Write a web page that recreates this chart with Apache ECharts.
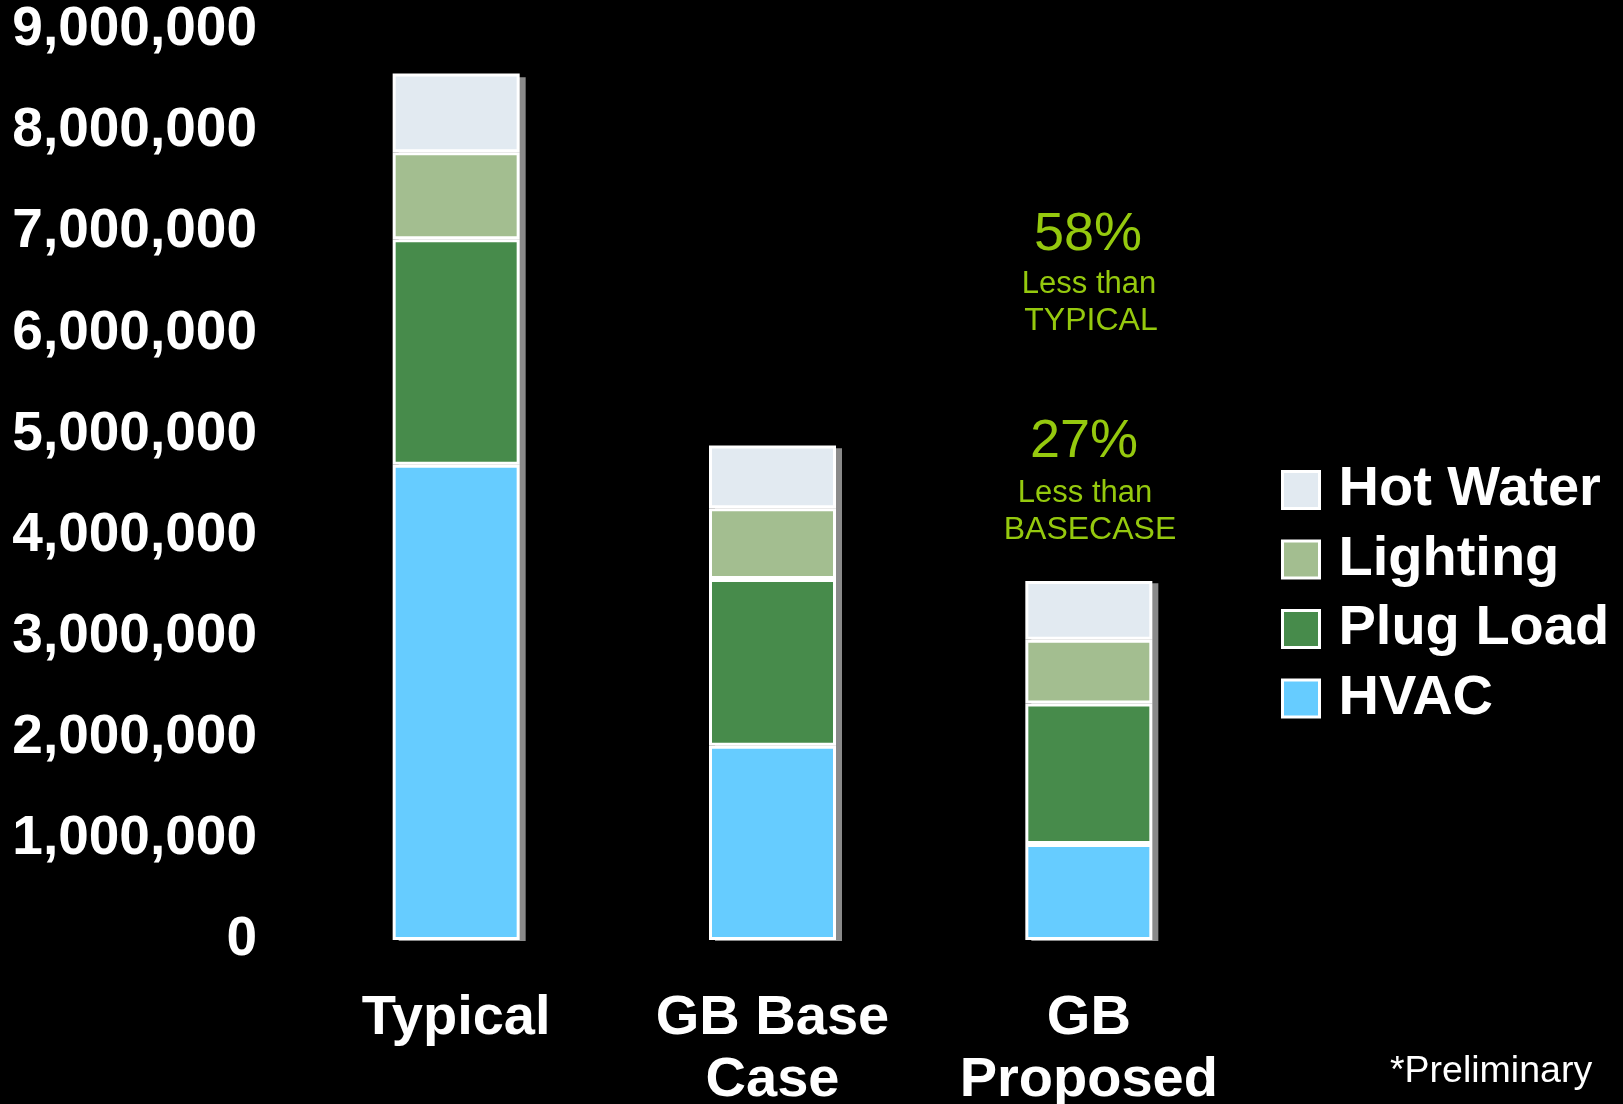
<!DOCTYPE html>
<html>
<head>
<meta charset="utf-8">
<script src="https://cdn.jsdelivr.net/npm/echarts@6/dist/echarts.min.js"></script>
<style>
html,body{margin:0;padding:0;background:#000;}
#chart{width:1623px;height:1104px;}
</style>
</head>
<body>
<div id="chart"></div>
<script>
const categories = ['Typical', 'GB Base\nCase', 'GB\nProposed'];
const hvac = [4700000, 1920000, 950000];
const plugLoad = [2230000, 1650000, 1390000];
const lighting = [860000, 700000, 630000];
const hotWater = [780000, 620000, 580000];
const seriesNames = ['HVAC', 'Plug Load', 'Lighting', 'Hot Water'];
const legendOrder = ['Hot Water', 'Lighting', 'Plug Load', 'HVAC'];
const colors = ['#66CCFF', '#478B4B', '#A3BE90', '#E2EAF1'];
const yTicks = { min: 0, max: 9000000, interval: 1000000 };
const notes = [
  { text: '58%', x: 1088, y: 235, size: 54 },
  { text: 'Less than', x: 1089, y: 284, size: 31 },
  { text: 'TYPICAL', x: 1091, y: 321, size: 32 },
  { text: '27%', x: 1084, y: 442, size: 54 },
  { text: 'Less than', x: 1085, y: 493, size: 31 },
  { text: 'BASECASE', x: 1090, y: 530, size: 32 }
];

const FONT = '"Liberation Sans", Arial, sans-serif';
const chart = echarts.init(document.getElementById('chart'), null, { renderer: 'canvas' });
const values = [hvac, plugLoad, lighting, hotWater];
const totals = categories.map((c, k) => values.reduce((s, arr) => s + arr[k], 0));

const series = seriesNames.map((name, i) => ({
  name: name,
  type: 'bar',
  stack: 'total',
  barWidth: 127,
  z: 3,
  xAxisIndex: 0,
  yAxisIndex: 0,
  data: values[i],
  itemStyle: {
    color: colors[i],
    borderColor: '#ffffff',
    borderWidth: 3
  },
  emphasis: { disabled: true }
}));
series.unshift({
  name: 'shadow',
  type: 'bar',
  barWidth: 127,
  z: 1,
  xAxisIndex: 1,
  yAxisIndex: 1,
  data: totals,
  itemStyle: { color: '#8a8a8a' },
  emphasis: { disabled: true },
  silent: true
});

const graphics = notes.map(n => ({
  type: 'text',
  x: n.x, y: n.y,
  style: {
    text: n.text,
    fill: '#95C90E',
    font: n.size + 'px ' + FONT,
    textAlign: 'center',
    textVerticalAlign: 'middle'
  }
}));
graphics.push({
  type: 'text',
  x: 1390, y: 1072,
  style: {
    text: '*Preliminary',
    fill: '#ffffff',
    font: '37.5px ' + FONT,
    textAlign: 'left',
    textVerticalAlign: 'middle'
  }
});

const bounds = { left: -2000, right: -2000, top: -2000, bottom: -2000 };

chart.setOption({
  backgroundColor: '#000000',
  animation: false,
  grid: [
    { left: 298, right: 376, top: 30, bottom: 164, containLabel: false, outerBoundsMode: 'none', outerBounds: bounds },
    { left: 304, right: 370, top: 34, bottom: 163, containLabel: false, outerBoundsMode: 'none', outerBounds: bounds }
  ],
  legend: {
    data: legendOrder,
    orient: 'vertical',
    left: 1281,
    top: 462,
    padding: 0,
    itemWidth: 37,
    itemHeight: 37,
    itemGap: 13.5,
    icon: 'rect',
    selectedMode: false,
    itemStyle: { borderColor: '#fff', borderWidth: 3 },
    textStyle: {
      color: '#ffffff',
      fontFamily: FONT,
      fontWeight: 'bold',
      fontSize: 56,
      padding: [0, 0, 0, 14]
    }
  },
  xAxis: [{
    type: 'category',
    gridIndex: 0,
    data: categories,
    axisLine: { show: false },
    axisTick: { show: false },
    axisLabel: {
      color: '#ffffff',
      fontFamily: FONT,
      fontWeight: 'bold',
      fontSize: 56,
      lineHeight: 62,
      margin: 48,
      interval: 0
    }
  }, {
    type: 'category',
    gridIndex: 1,
    data: categories,
    show: false
  }],
  yAxis: [{
    type: 'value',
    gridIndex: 0,
    min: yTicks.min,
    max: yTicks.max,
    interval: yTicks.interval,
    splitLine: { show: false },
    axisLine: { show: false },
    axisTick: { show: false },
    axisLabel: {
      color: '#ffffff',
      fontFamily: FONT,
      fontWeight: 'bold',
      fontSize: 55,
      margin: 41,
      formatter: v => v.toLocaleString('en-US')
    }
  }, {
    type: 'value',
    gridIndex: 1,
    min: yTicks.min,
    max: yTicks.max,
    interval: yTicks.interval,
    show: false,
    splitLine: { show: false }
  }],
  graphic: graphics,
  series: series
});
</script>
</body>
</html>
